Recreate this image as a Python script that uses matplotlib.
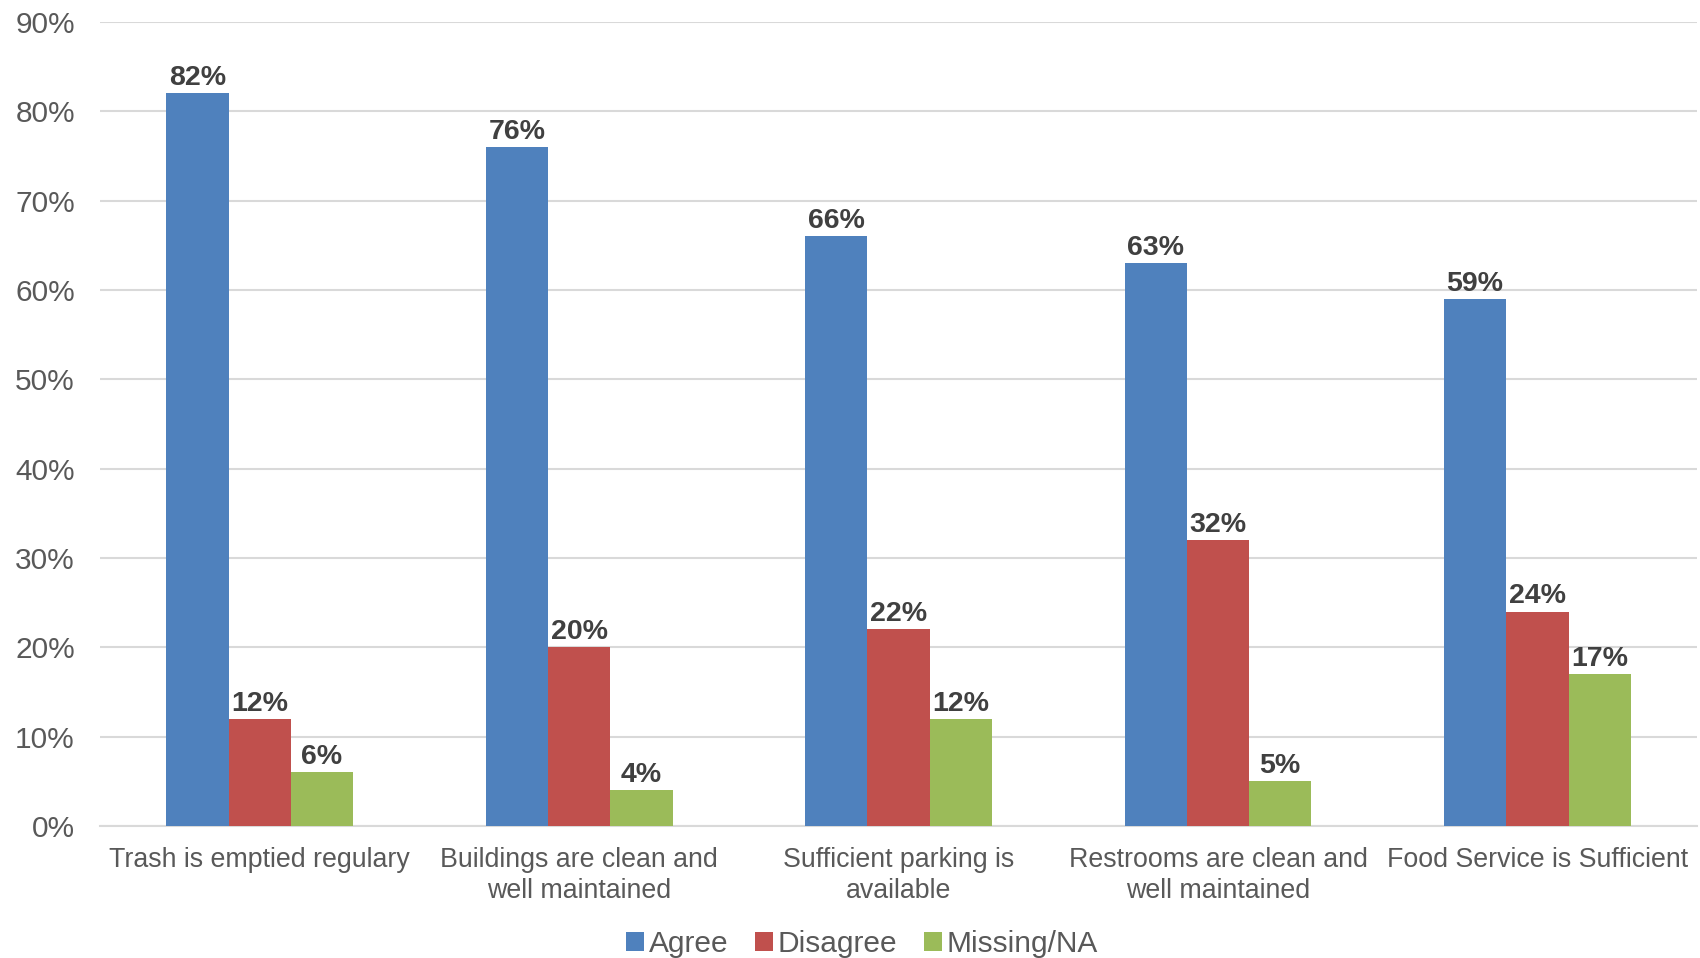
import matplotlib
matplotlib.use("Agg")
import matplotlib.pyplot as plt
import numpy as np
from matplotlib.patches import Patch

plt.rcParams['font.family'] = ['Liberation Sans', 'DejaVu Sans']

categories = ["Trash is emptied regulary", "Buildings are clean and\nwell maintained",
              "Sufficient parking is\navailable", "Restrooms are clean and\nwell maintained",
              "Food Service is Sufficient"]
agree = [82, 76, 66, 63, 59]
disagree = [12, 20, 22, 32, 24]
missing = [6, 4, 12, 5, 17]
series_names = ["Agree", "Disagree", "Missing/NA"]
colors = ["#4F81BD", "#C0504D", "#9BBB59"]
yticks = [0, 10, 20, 30, 40, 50, 60, 70, 80, 90]

fig = plt.figure(figsize=(17, 9.58), dpi=100)
ax = fig.add_axes([0.0588, 0.1378, 0.9395, 0.8392])

x = np.arange(len(categories))
w = 0.195
for i, (vals, c) in enumerate(zip([agree, disagree, missing], colors)):
    pos = x + (i - 1) * w
    bars = ax.bar(pos, vals, width=w, color=c, zorder=3)
    for b, v in zip(bars, vals):
        ax.text(b.get_x() + b.get_width() / 2, v + 0.25, f"{v}%", ha='center', va='bottom',
                fontsize=20.5, fontweight='bold', color='#404040', zorder=4)

ax.set_xlim(-0.5, len(categories) - 0.5)
ax.set_ylim(0, 90)
ax.set_yticks(yticks)
ax.set_yticklabels([f"{t}%" for t in yticks], fontsize=21.5, color='#595959')
ax.set_xticks(x)
ax.set_xticklabels(categories, fontsize=19.3, color='#595959', linespacing=1.25)
ax.tick_params(axis='both', length=0)
ax.tick_params(axis='x', pad=15)
ax.tick_params(axis='y', pad=18)
ax.grid(axis='y', color='#D9D9D9', linewidth=1.5, zorder=0)
for s in ['top', 'right', 'left']:
    ax.spines[s].set_visible(False)
ax.spines['bottom'].set_color('#D9D9D9')
ax.spines['bottom'].set_linewidth(1.5)

handles = [Patch(facecolor=c, label=n) for c, n in zip(colors, series_names)]
fig.legend(handles=handles, loc='center', bbox_to_anchor=(0.507, 0.015), ncol=3, frameon=False,
           fontsize=21.5, handlelength=0.6, handleheight=0.6, handletextpad=0.15, columnspacing=0.9,
           labelcolor='#595959')

fig.savefig("out.png", dpi=100)
